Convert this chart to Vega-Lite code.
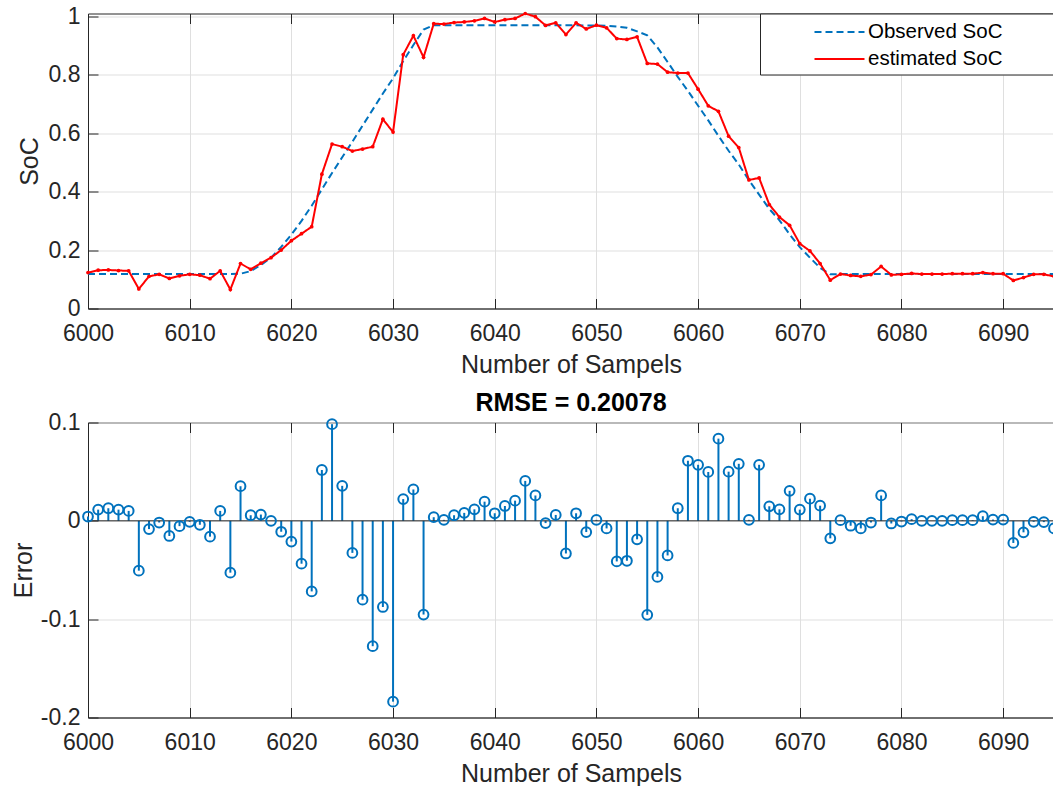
{
  "$schema": "https://vega.github.io/schema/vega-lite/v6.json",
  "background": "white",
  "padding": {"left": 10, "top": 4.5, "right": 0, "bottom": 0},
  "bounds": "flush",
  "spacing": 114,
  "config": {
    "font": "Liberation Sans",
    "view": {"stroke": "#262626", "strokeWidth": 1},
    "axis": {
      "labelFont": "Liberation Sans",
      "labelFontSize": 23,
      "labelColor": "#262626",
      "titleFont": "Liberation Sans",
      "titleFontSize": 25,
      "titleFontWeight": "normal",
      "titleColor": "#262626",
      "domainColor": "#262626",
      "tickColor": "#262626",
      "tickSize": -10,
      "tickWidth": 1,
      "gridColor": "#dfdfdf",
      "gridWidth": 1,
      "labelFlush": false,
      "labelOverlap": false
    }
  },
  "datasets": {
    "soc": [
      {"n": 6000, "observed": 0.118, "estimated": 0.123, "err": 0.0044},
      {"n": 6001, "observed": 0.118, "estimated": 0.131, "err": 0.0114},
      {"n": 6002, "observed": 0.118, "estimated": 0.132, "err": 0.0128},
      {"n": 6003, "observed": 0.118, "estimated": 0.130, "err": 0.0114},
      {"n": 6004, "observed": 0.118, "estimated": 0.129, "err": 0.0101},
      {"n": 6005, "observed": 0.118, "estimated": 0.067, "err": -0.0507},
      {"n": 6006, "observed": 0.118, "estimated": 0.110, "err": -0.0084},
      {"n": 6007, "observed": 0.118, "estimated": 0.117, "err": -0.0017},
      {"n": 6008, "observed": 0.118, "estimated": 0.103, "err": -0.0154},
      {"n": 6009, "observed": 0.118, "estimated": 0.112, "err": -0.0054},
      {"n": 6010, "observed": 0.118, "estimated": 0.117, "err": -0.0010},
      {"n": 6011, "observed": 0.118, "estimated": 0.114, "err": -0.0040},
      {"n": 6012, "observed": 0.118, "estimated": 0.102, "err": -0.0161},
      {"n": 6013, "observed": 0.118, "estimated": 0.129, "err": 0.0101},
      {"n": 6014, "observed": 0.118, "estimated": 0.065, "err": -0.0527},
      {"n": 6015, "observed": 0.119, "estimated": 0.154, "err": 0.0352},
      {"n": 6016, "observed": 0.128, "estimated": 0.134, "err": 0.0057},
      {"n": 6017, "observed": 0.149, "estimated": 0.155, "err": 0.0064},
      {"n": 6018, "observed": 0.174, "estimated": 0.174, "err": 0.0000},
      {"n": 6019, "observed": 0.211, "estimated": 0.200, "err": -0.0111},
      {"n": 6020, "observed": 0.253, "estimated": 0.232, "err": -0.0211},
      {"n": 6021, "observed": 0.300, "estimated": 0.256, "err": -0.0436},
      {"n": 6022, "observed": 0.352, "estimated": 0.280, "err": -0.0718},
      {"n": 6023, "observed": 0.408, "estimated": 0.460, "err": 0.0517},
      {"n": 6024, "observed": 0.464, "estimated": 0.563, "err": 0.0983},
      {"n": 6025, "observed": 0.518, "estimated": 0.554, "err": 0.0356},
      {"n": 6026, "observed": 0.571, "estimated": 0.539, "err": -0.0326},
      {"n": 6027, "observed": 0.626, "estimated": 0.546, "err": -0.0802},
      {"n": 6028, "observed": 0.681, "estimated": 0.554, "err": -0.1275},
      {"n": 6029, "observed": 0.736, "estimated": 0.648, "err": -0.0876},
      {"n": 6030, "observed": 0.788, "estimated": 0.604, "err": -0.1839},
      {"n": 6031, "observed": 0.847, "estimated": 0.869, "err": 0.0221},
      {"n": 6032, "observed": 0.902, "estimated": 0.934, "err": 0.0319},
      {"n": 6033, "observed": 0.955, "estimated": 0.860, "err": -0.0953},
      {"n": 6034, "observed": 0.970, "estimated": 0.975, "err": 0.0037},
      {"n": 6035, "observed": 0.970, "estimated": 0.974, "err": 0.0010},
      {"n": 6036, "observed": 0.970, "estimated": 0.979, "err": 0.0057},
      {"n": 6037, "observed": 0.970, "estimated": 0.981, "err": 0.0081},
      {"n": 6038, "observed": 0.970, "estimated": 0.985, "err": 0.0117},
      {"n": 6039, "observed": 0.970, "estimated": 0.993, "err": 0.0195},
      {"n": 6040, "observed": 0.970, "estimated": 0.981, "err": 0.0077},
      {"n": 6041, "observed": 0.970, "estimated": 0.989, "err": 0.0151},
      {"n": 6042, "observed": 0.970, "estimated": 0.993, "err": 0.0205},
      {"n": 6043, "observed": 0.970, "estimated": 1.010, "err": 0.0406},
      {"n": 6044, "observed": 0.970, "estimated": 0.999, "err": 0.0258},
      {"n": 6045, "observed": 0.970, "estimated": 0.969, "err": -0.0023},
      {"n": 6046, "observed": 0.970, "estimated": 0.978, "err": 0.0060},
      {"n": 6047, "observed": 0.970, "estimated": 0.938, "err": -0.0332},
      {"n": 6048, "observed": 0.970, "estimated": 0.978, "err": 0.0077},
      {"n": 6049, "observed": 0.969, "estimated": 0.957, "err": -0.0114},
      {"n": 6050, "observed": 0.969, "estimated": 0.970, "err": 0.0010},
      {"n": 6051, "observed": 0.968, "estimated": 0.961, "err": -0.0077},
      {"n": 6052, "observed": 0.965, "estimated": 0.924, "err": -0.0413},
      {"n": 6053, "observed": 0.961, "estimated": 0.921, "err": -0.0406},
      {"n": 6054, "observed": 0.949, "estimated": 0.930, "err": -0.0188},
      {"n": 6055, "observed": 0.935, "estimated": 0.839, "err": -0.0956},
      {"n": 6056, "observed": 0.894, "estimated": 0.837, "err": -0.0570},
      {"n": 6057, "observed": 0.844, "estimated": 0.809, "err": -0.0352},
      {"n": 6058, "observed": 0.793, "estimated": 0.806, "err": 0.0128},
      {"n": 6059, "observed": 0.745, "estimated": 0.806, "err": 0.0611},
      {"n": 6060, "observed": 0.694, "estimated": 0.751, "err": 0.0570},
      {"n": 6061, "observed": 0.644, "estimated": 0.694, "err": 0.0497},
      {"n": 6062, "observed": 0.591, "estimated": 0.675, "err": 0.0836},
      {"n": 6063, "observed": 0.540, "estimated": 0.590, "err": 0.0500},
      {"n": 6064, "observed": 0.493, "estimated": 0.551, "err": 0.0580},
      {"n": 6065, "observed": 0.439, "estimated": 0.440, "err": 0.0010},
      {"n": 6066, "observed": 0.390, "estimated": 0.447, "err": 0.0570},
      {"n": 6067, "observed": 0.341, "estimated": 0.356, "err": 0.0148},
      {"n": 6068, "observed": 0.302, "estimated": 0.313, "err": 0.0117},
      {"n": 6069, "observed": 0.254, "estimated": 0.285, "err": 0.0305},
      {"n": 6070, "observed": 0.210, "estimated": 0.222, "err": 0.0114},
      {"n": 6071, "observed": 0.174, "estimated": 0.197, "err": 0.0225},
      {"n": 6072, "observed": 0.139, "estimated": 0.154, "err": 0.0154},
      {"n": 6073, "observed": 0.117, "estimated": 0.097, "err": -0.0178},
      {"n": 6074, "observed": 0.118, "estimated": 0.118, "err": 0.0007},
      {"n": 6075, "observed": 0.118, "estimated": 0.113, "err": -0.0050},
      {"n": 6076, "observed": 0.118, "estimated": 0.110, "err": -0.0077},
      {"n": 6077, "observed": 0.118, "estimated": 0.116, "err": -0.0017},
      {"n": 6078, "observed": 0.118, "estimated": 0.144, "err": 0.0258},
      {"n": 6079, "observed": 0.118, "estimated": 0.115, "err": -0.0027},
      {"n": 6080, "observed": 0.118, "estimated": 0.117, "err": -0.0007},
      {"n": 6081, "observed": 0.118, "estimated": 0.120, "err": 0.0017},
      {"n": 6082, "observed": 0.118, "estimated": 0.118, "err": 0.0000},
      {"n": 6083, "observed": 0.118, "estimated": 0.118, "err": 0.0000},
      {"n": 6084, "observed": 0.118, "estimated": 0.118, "err": 0.0000},
      {"n": 6085, "observed": 0.118, "estimated": 0.119, "err": 0.0007},
      {"n": 6086, "observed": 0.118, "estimated": 0.119, "err": 0.0007},
      {"n": 6087, "observed": 0.118, "estimated": 0.119, "err": 0.0007},
      {"n": 6088, "observed": 0.118, "estimated": 0.123, "err": 0.0047},
      {"n": 6089, "observed": 0.118, "estimated": 0.119, "err": 0.0013},
      {"n": 6090, "observed": 0.118, "estimated": 0.119, "err": 0.0013},
      {"n": 6091, "observed": 0.118, "estimated": 0.096, "err": -0.0225},
      {"n": 6092, "observed": 0.118, "estimated": 0.106, "err": -0.0117},
      {"n": 6093, "observed": 0.118, "estimated": 0.117, "err": -0.0010},
      {"n": 6094, "observed": 0.118, "estimated": 0.117, "err": -0.0013},
      {"n": 6095, "observed": 0.118, "estimated": 0.110, "err": -0.0077}
    ]
  },
  "vconcat": [
    {
      "width": 966,
      "height": 295,
      "data": {"name": "soc"},
      "transform": [{"fold": ["observed", "estimated"], "as": ["series", "soc"]}],
      "encoding": {
        "y": {
          "field": "soc",
          "type": "quantitative",
          "scale": {"domain": [0, 1.01], "nice": false, "zero": false},
          "axis": {
            "values": [0, 0.2, 0.4, 0.6, 0.8, 1],
            "format": "~g",
            "title": "SoC",
            "titleX": -50.6,
            "titleBaseline": "alphabetic",
            "labelPadding": 18
          }
        }
      },
      "layer": [
        {
          "mark": {"type": "line", "strokeWidth": 2, "clip": true},
          "encoding": {
            "x": {
              "field": "n",
              "type": "quantitative",
              "scale": {"domain": [6000, 6095], "nice": false, "zero": false},
              "axis": {
                "values": [6000, 6010, 6020, 6030, 6040, 6050, 6060, 6070, 6080, 6090],
                "format": "d",
                "title": "Number of Sampels",
                "titleY": 64,
                "titleBaseline": "alphabetic",
                "labelBaseline": "alphabetic",
                "labelPadding": 42
              }
            },
            "color": {
              "field": "series",
              "type": "nominal",
              "scale": {"domain": ["observed", "estimated"], "range": ["#0072BD", "#FF0000"]},
              "legend": {
                "title": null,
                "orient": "none",
                "legendX": 672,
                "legendY": 0,
                "direction": "vertical",
                "symbolType": "M-2,0H2",
                "symbolSize": 625,
                "symbolStrokeWidth": 2,
                "symbolOffset": 61,
                "padding": 5,
                "rowPadding": 3,
                "labelFont": "Liberation Sans",
                "labelFontSize": 20.5,
                "labelColor": "#000000",
                "labelOffset": 15,
                "labelLimit": 400,
                "strokeColor": "#262626",
                "fillColor": "white",
                "cornerRadius": 0,
                "labelExpr": "datum.label == 'observed' ? 'Observed SoC\u00a0\u00a0\u00a0\u00a0\u00a0\u00a0\u00a0\u00a0\u200b' : 'estimated SoC\u00a0\u00a0\u00a0\u00a0\u00a0\u00a0\u00a0\u00a0\u200b'"
              }
            },
            "strokeDash": {
              "field": "series",
              "type": "nominal",
              "scale": {"domain": ["observed", "estimated"], "range": [[7, 4], [1, 0]]},
              "legend": {
                "title": null,
                "orient": "none",
                "legendX": 672,
                "legendY": 0,
                "direction": "vertical",
                "symbolType": "M-2,0H2",
                "symbolSize": 625,
                "symbolStrokeWidth": 2,
                "symbolOffset": 61,
                "padding": 5,
                "rowPadding": 3,
                "labelFont": "Liberation Sans",
                "labelFontSize": 20.5,
                "labelColor": "#000000",
                "labelOffset": 15,
                "labelLimit": 400,
                "strokeColor": "#262626",
                "fillColor": "white",
                "cornerRadius": 0,
                "labelExpr": "datum.label == 'observed' ? 'Observed SoC\u00a0\u00a0\u00a0\u00a0\u00a0\u00a0\u00a0\u00a0\u200b' : 'estimated SoC\u00a0\u00a0\u00a0\u00a0\u00a0\u00a0\u00a0\u00a0\u200b'"
              }
            }
          }
        },
        {
          "transform": [{"filter": "datum.series == 'estimated'"}],
          "mark": {"type": "point", "shape": "circle", "filled": true, "size": 14, "color": "#FF0000", "opacity": 1},
          "encoding": {
            "x": {"field": "n", "type": "quantitative", "axis": null}
          }
        },
        {
          "transform": [{"filter": "datum.series == 'estimated'"}],
          "mark": {"type": "point", "opacity": 0},
          "encoding": {
            "x": {
              "field": "n",
              "type": "quantitative",
              "axis": {
                "orient": "top",
                "values": [6000, 6010, 6020, 6030, 6040, 6050, 6060, 6070, 6080, 6090],
                "labels": false,
                "domain": false,
                "grid": false,
                "title": null
              }
            }
          }
        }
      ],
      "resolve": {"axis": {"x": "independent"}}
    },
    {
      "width": 966,
      "height": 295,
      "title": {
        "text": "RMSE = 0.20078",
        "font": "Liberation Sans",
        "fontSize": 25,
        "fontWeight": "bold",
        "color": "#000000",
        "baseline": "alphabetic",
        "offset": 10,
        "dy": 34
      },
      "data": {"name": "soc"},
      "layer": [
        {
          "mark": {"type": "rule", "color": "#0072BD", "strokeWidth": 2},
          "encoding": {
            "x": {
              "field": "n",
              "type": "quantitative",
              "scale": {"domain": [6000, 6095], "nice": false, "zero": false},
              "axis": {
                "values": [6000, 6010, 6020, 6030, 6040, 6050, 6060, 6070, 6080, 6090],
                "format": "d",
                "title": "Number of Sampels",
                "titleY": 64,
                "titleBaseline": "alphabetic",
                "labelBaseline": "alphabetic",
                "labelPadding": 42
              }
            },
            "y": {
              "field": "err",
              "type": "quantitative",
              "scale": {"domain": [-0.2, 0.1], "nice": false, "zero": false},
              "axis": {
                "values": [-0.2, -0.1, 0, 0.1],
                "labelExpr": "datum.value == 0 ? '0' : (datum.value < 0 ? '-' + format(-datum.value, '.1f') : format(datum.value, '.1f'))",
                "title": "Error",
                "titleX": -57,
                "titleBaseline": "alphabetic",
                "labelPadding": 18
              }
            },
            "y2": {"datum": 0}
          }
        },
        {
          "data": {"values": [{}]},
          "mark": {"type": "rule", "color": "#262626", "strokeWidth": 1},
          "encoding": {"y": {"datum": 0}}
        },
        {
          "mark": {"type": "point", "shape": "circle", "filled": false, "size": 95, "strokeWidth": 2, "color": "#0072BD", "opacity": 1},
          "encoding": {
            "x": {"field": "n", "type": "quantitative", "axis": null},
            "y": {"field": "err", "type": "quantitative"}
          }
        },
        {
          "mark": {"type": "point", "opacity": 0},
          "encoding": {
            "x": {
              "field": "n",
              "type": "quantitative",
              "axis": {
                "orient": "top",
                "values": [6000, 6010, 6020, 6030, 6040, 6050, 6060, 6070, 6080, 6090],
                "labels": false,
                "domain": false,
                "grid": false,
                "title": null
              }
            },
            "y": {"field": "err", "type": "quantitative"}
          }
        }
      ],
      "resolve": {"axis": {"x": "independent"}}
    }
  ]
}
